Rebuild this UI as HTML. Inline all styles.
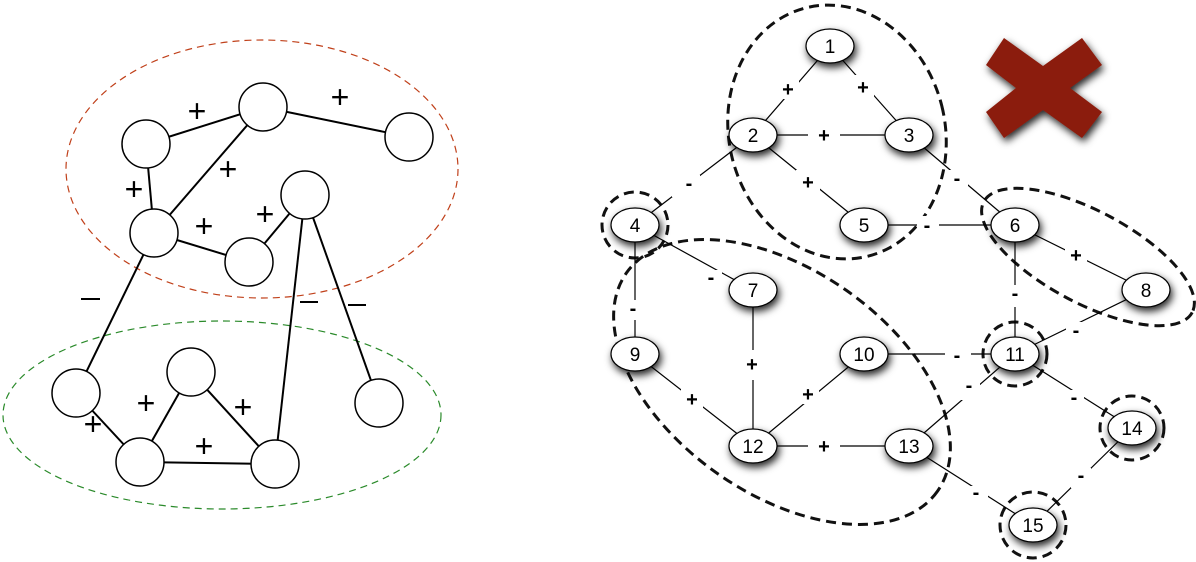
<!DOCTYPE html>
<html><head><meta charset="utf-8"><style>body{margin:0;background:#fff}svg{display:block}</style></head><body>
<svg width="1196" height="562" viewBox="0 0 1196 562" xmlns="http://www.w3.org/2000/svg" font-family="Liberation Sans, sans-serif">
<defs><filter id="sh" x="-50%" y="-50%" width="200%" height="200%"><feDropShadow dx="2" dy="4" stdDeviation="4" flood-color="#000" flood-opacity="0.85"/></filter></defs>
<!-- LEFT -->
<ellipse cx="262" cy="169" rx="196" ry="129" fill="none" stroke="#c0401a" stroke-width="1.2" stroke-dasharray="7,5"/>
<ellipse cx="222" cy="415" rx="219" ry="94" fill="none" stroke="#2a8a2a" stroke-width="1.2" stroke-dasharray="7,5"/>
<g stroke="#000" stroke-width="2">
<line x1="146" y1="144" x2="263" y2="107"/><line x1="263" y1="107" x2="409" y2="137"/>
<line x1="263" y1="107" x2="154" y2="233"/><line x1="146" y1="144" x2="154" y2="233"/>
<line x1="154" y1="233" x2="249" y2="262"/><line x1="249" y1="262" x2="305" y2="195"/>
<line x1="154" y1="233" x2="76" y2="393"/><line x1="305" y1="195" x2="275" y2="464"/>
<line x1="305" y1="195" x2="379" y2="403"/><line x1="76" y1="393" x2="140" y2="462"/>
<line x1="140" y1="462" x2="191" y2="372"/><line x1="191" y1="372" x2="275" y2="464"/>
<line x1="140" y1="462" x2="275" y2="464"/>
</g>
<g fill="#fff" stroke="#000" stroke-width="1.5">
<circle cx="146" cy="144" r="24"/><circle cx="263" cy="107" r="24"/><circle cx="409" cy="137" r="24"/>
<circle cx="154" cy="233" r="24"/><circle cx="249" cy="262" r="24"/><circle cx="305" cy="195" r="24"/>
<circle cx="76" cy="393" r="24"/><circle cx="191" cy="372" r="24"/><circle cx="379" cy="403" r="24"/>
<circle cx="140" cy="462" r="24"/><circle cx="275" cy="464" r="24"/>
</g>
<g font-size="32" text-anchor="middle" fill="#000">
<text x="197" y="122">+</text><text x="340" y="108">+</text><text x="228" y="180">+</text>
<text x="134" y="200">+</text><text x="204" y="237">+</text><text x="265" y="225">+</text>
<text x="146" y="414">+</text><text x="243" y="418">+</text><text x="204" y="457">+</text><text x="93" y="435">+</text>
</g>
<g stroke="#000" stroke-width="2"><line x1="81" y1="299" x2="100" y2="299"/><line x1="300" y1="302" x2="318" y2="302"/><line x1="348" y1="305" x2="366" y2="305"/></g>
<!-- RIGHT -->
<g fill="none" stroke="#111" stroke-width="3" stroke-dasharray="10,6">
<ellipse cx="837" cy="132" rx="108" ry="128" transform="rotate(-14 837 132)"/>
<ellipse cx="782" cy="382" rx="190" ry="112" transform="rotate(35 782 382)"/>
<ellipse cx="1088" cy="257" rx="118" ry="46" transform="rotate(28 1088 257)"/>
<circle cx="635" cy="225" r="33"/><circle cx="1015" cy="354" r="32"/>
<circle cx="1132" cy="428" r="32"/><circle cx="1033" cy="525" r="33"/>
</g>
<g stroke="#000" stroke-width="1.2">
<line x1="830" y1="46" x2="753" y2="135"/><line x1="830" y1="46" x2="909" y2="135"/>
<line x1="753" y1="135" x2="909" y2="135"/><line x1="753" y1="135" x2="864" y2="225"/>
<line x1="753" y1="135" x2="635" y2="225"/><line x1="909" y1="135" x2="1015" y2="225"/>
<line x1="864" y1="225" x2="1015" y2="225"/><line x1="635" y1="225" x2="753" y2="290"/>
<line x1="635" y1="225" x2="635" y2="354"/><line x1="1015" y1="225" x2="1146" y2="290"/>
<line x1="1015" y1="225" x2="1015" y2="354"/><line x1="1146" y1="290" x2="1015" y2="354"/>
<line x1="753" y1="290" x2="753" y2="446"/><line x1="635" y1="354" x2="753" y2="446"/>
<line x1="864" y1="354" x2="753" y2="446"/><line x1="753" y1="446" x2="909" y2="446"/>
<line x1="864" y1="354" x2="1015" y2="354"/><line x1="1015" y1="354" x2="909" y2="446"/>
<line x1="1015" y1="354" x2="1132" y2="428"/><line x1="909" y1="446" x2="1033" y2="525"/>
<line x1="1132" y1="428" x2="1033" y2="525"/>
</g>
<g fill="#fff" stroke="none">
<rect x="777" y="77" width="22" height="22"/><rect x="852" y="75" width="22" height="22"/><rect x="808" y="124" width="32" height="22"/>
<rect x="796" y="170" width="24" height="22"/><rect x="1065" y="243" width="22" height="22"/><rect x="742" y="350" width="22" height="30"/>
<rect x="681" y="387" width="22" height="22"/><rect x="797" y="382" width="22" height="22"/><rect x="808" y="435" width="32" height="22"/>
<rect x="672" y="175" width="28" height="22"/><rect x="946" y="170" width="22" height="22"/><rect x="917" y="216" width="22" height="18"/>
<rect x="700" y="270" width="22" height="22"/><rect x="625" y="300" width="18" height="20"/><rect x="1005" y="285" width="18" height="22"/>
<rect x="1066" y="322" width="20" height="20"/><rect x="945" y="346" width="26" height="18"/><rect x="958" y="380" width="22" height="20"/>
<rect x="1064" y="390" width="20" height="20"/><rect x="966" y="486" width="22" height="20"/><rect x="1071" y="468" width="20" height="20"/>
</g>
<g font-size="20" font-weight="bold" text-anchor="middle" fill="#000">
<text x="788" y="96">+</text><text x="863" y="94">+</text><text x="824" y="142">+</text><text x="808" y="189">+</text>
<text x="1076" y="262">+</text><text x="752" y="371">+</text><text x="692" y="406">+</text><text x="808" y="401">+</text><text x="824" y="453">+</text>
<text x="689" y="190">-</text><text x="957" y="185">-</text><text x="927" y="232">-</text><text x="711" y="284">-</text>
<text x="633" y="315">-</text><text x="1015" y="300">-</text><text x="1076" y="337">-</text><text x="957" y="362">-</text>
<text x="969" y="392">-</text><text x="1074" y="404">-</text><text x="976" y="499">-</text><text x="1081" y="482">-</text>
</g>
<g filter="url(#sh)" fill="#fff" stroke="#000" stroke-width="1.2">
<ellipse cx="830" cy="46" rx="24" ry="17"/><ellipse cx="753" cy="135" rx="24" ry="17"/><ellipse cx="909" cy="135" rx="24" ry="17"/>
<ellipse cx="635" cy="225" rx="24" ry="17"/><ellipse cx="864" cy="225" rx="24" ry="17"/><ellipse cx="1015" cy="225" rx="24" ry="17"/>
<ellipse cx="753" cy="290" rx="24" ry="17"/><ellipse cx="1146" cy="290" rx="24" ry="17"/><ellipse cx="635" cy="354" rx="24" ry="17"/>
<ellipse cx="864" cy="354" rx="24" ry="17"/><ellipse cx="1015" cy="354" rx="24" ry="17"/><ellipse cx="753" cy="446" rx="24" ry="17"/>
<ellipse cx="909" cy="446" rx="24" ry="17"/><ellipse cx="1132" cy="428" rx="24" ry="17"/><ellipse cx="1033" cy="525" rx="24" ry="17"/>
</g>
<g font-size="19" text-anchor="middle" fill="#000">
<text x="830" y="53">1</text><text x="753" y="142">2</text><text x="909" y="142">3</text><text x="635" y="232">4</text>
<text x="864" y="232">5</text><text x="1015" y="232">6</text><text x="753" y="297">7</text><text x="1146" y="297">8</text>
<text x="635" y="361">9</text><text x="864" y="361">10</text><text x="1015" y="361">11</text><text x="753" y="453">12</text>
<text x="909" y="453">13</text><text x="1132" y="435">14</text><text x="1033" y="532">15</text>
</g>
<g filter="url(#sh)" fill="#8b1a08">
<polygon points="986,65 1004,38 1043,66 1082,38 1102,65 1070,88 1102,112 1082,138 1043,110 1004,138 986,112 1016,88"/>
</g>
</svg>
</body></html>
